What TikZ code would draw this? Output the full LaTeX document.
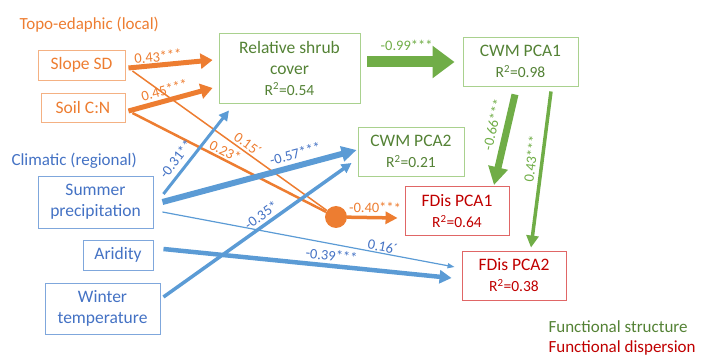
\documentclass[tikz,border=0pt]{standalone}
\usepackage{fontspec}
\setmainfont{Carlito}
\usetikzlibrary{arrows.meta,calc}
\definecolor{topoOrange}{HTML}{ED7D31}
\definecolor{topoLine}{HTML}{F4B183}
\definecolor{climLine}{HTML}{5B9BD5}
\definecolor{climBlue}{HTML}{4472C4}
\definecolor{climBox}{HTML}{7FA7DC}
\definecolor{strucGreen}{HTML}{70AD47}
\definecolor{strucText}{HTML}{548235}
\definecolor{strucBox}{HTML}{A9D18E}
\definecolor{dispRed}{HTML}{C00000}
\definecolor{dispBox}{HTML}{E06666}
\newcommand{\rsq}[1]{{\fontsize{15.5}{17}\selectfont R\textsuperscript{2}=#1}}

\begin{document}
\begin{tikzpicture}[x=1pt, y=-1pt,
  box/.style = {draw, line width=0.9pt, align=center, inner sep=0pt, font=\fontsize{17.5}{21}\selectfont},
  topo/.style = {box, draw=topoLine, text=topoOrange},
  clim/.style = {box, draw=climBox, text=climBlue},
  struc/.style = {box, draw=strucBox, text=strucText},
  disp/.style = {box, draw=dispBox, text=dispRed},
  lab/.style = {font=\fontsize{14.5}{16}\selectfont, sloped, inner sep=1pt},
  head/.style = {anchor=west, font=\fontsize{17}{19}\selectfont},
  arr/.style 2 args = {-{Triangle[length=#1pt, width=#2pt]}}]

\useasboundingbox (0,0) rectangle (704,355);

% group titles
\node[head, text=topoOrange] (topohead) at (16,25) {Topo-edaphic (local)};
\node[head, text=climBlue] (climhead) at (8,161) {Climatic (regional)};

% predictors
\node[topo, minimum width=87pt, minimum height=30pt] (slope) at (81.5,65) {Slope SD};
\node[topo, minimum width=84pt, minimum height=29pt] (soil) at (83,107.5) {Soil C:N};
\node[clim, minimum width=115pt, minimum height=52pt] (summer) at (95.5,202) {Summer\\precipitation};
\node[clim, minimum width=70pt, minimum height=30pt] (aridity) at (118,255) {Aridity};
\node[clim, minimum width=115pt, minimum height=51pt] (winter) at (102.5,308.5) {Winter\\temperature};

% responses
\node[struc, minimum width=141pt, minimum height=70pt] (rsc) at (289.5,68) {Relative shrub\\cover\\\rsq{0.54}};
\node[struc, minimum width=115pt, minimum height=49pt] (cwm1) at (520.5,61.5) {CWM PCA1\\\rsq{0.98}};
\node[struc, minimum width=106pt, minimum height=49pt] (cwm2) at (411,151.5) {CWM PCA2\\\rsq{0.21}};
\node[disp, minimum width=104pt, minimum height=49pt] (fdis1) at (457,211) {FDis PCA1\\\rsq{0.64}};
\node[disp, minimum width=104pt, minimum height=49pt] (fdis2) at (514,275.5) {FDis PCA2\\\rsq{0.38}};
\node[circle, fill=topoOrange, minimum size=22pt, inner sep=0pt] (dot) at (336,217) {};

% legend
\node[head, text=strucText] (legstruc) at (545,327) {Functional structure};
\node[head, text=dispRed] (legdisp) at (545,348) {Functional dispersion};

% topo-edaphic paths
\draw[topoOrange, line width=5pt, arr={12}{15}] ($(slope.east)+(3,3)$) -- node[lab, above, pos=0.36] {0.43***} ($(rsc.west)+(-6,-8)$);
\draw[topoOrange, line width=5pt, arr={12}{15}] ($(soil.east)+(3,3.5)$) -- node[lab, above=2pt, pos=0.46] {0.45***} ($(rsc.west)+(-6,20)$);
\draw[topoOrange, line width=1.5pt] ($(slope.east)+(7,6)$) -- node[lab, above=1pt, pos=0.57] {0.15´} (dot);
\draw[topoOrange, line width=2.5pt] ($(soil.east)+(7,5.5)$) -- node[lab, above=1pt, pos=0.46] {0.23*} (dot);
\draw[topoOrange, line width=3.5pt, arr={12}{12}] (dot) -- node[lab, above=2pt, pos=0.55] {-0.40***} ($(fdis1.west)+(-7,7)$);

% structure paths
\draw[strucGreen, line width=11pt, arr={22}{31}] ($(rsc.east)+(7,-6)$) -- node[lab, above=5pt, pos=0.45] {-0.99***} ($(cwm1.west)+(-8,0.5)$);
\draw[strucGreen, line width=7pt, arr={18}{19}] ($(cwm1.south)+(-5.5,8)$) -- node[lab, above=5pt, pos=0.37] {-0.66***} ($(fdis1.north)+(37,-1)$);
\draw[strucGreen, line width=3.5pt, arr={12}{12}] ($(cwm1.south)+(30.5,5)$) -- node[lab, above=3pt, pos=0.44] {0.43***} ($(fdis2.north)+(17,-3)$);

% climatic paths
\draw[climLine, text=climBlue, line width=3pt, arr={10}{10}] ($(summer.east)+(10,-8)$) -- node[lab, above=4pt, pos=0.33] {-0.31**} ($(rsc.south)+(-60.5,7)$);
\draw[climLine, text=climBlue, line width=6pt, arr={15}{15}] ($(summer.east)+(9,0)$) -- node[lab, above=3pt, pos=0.7] {-0.57***} ($(cwm2.west)+(-1,-1.5)$);
\draw[climLine, text=climBlue, line width=3.5pt, arr={10}{10}] ($(winter.east)+(3,-11.5)$) -- node[lab, above=2pt, pos=0.55] {-0.35*} ($(cwm2.west)+(-6,11.5)$);
\draw[climLine, text=climBlue, line width=1.2pt, arr={7}{5}] ($(summer.east)+(9,10)$) -- node[lab, above, pos=0.75] {0.16´} ($(fdis2.west)+(-7,-8.5)$);
\draw[climLine, text=climBlue, line width=4.5pt, arr={12}{13}] ($(aridity.east)+(10,-6)$) -- node[lab, above=2pt, pos=0.58] {-0.39***} ($(fdis2.west)+(-10,2.5)$);
\end{tikzpicture}
\end{document}
